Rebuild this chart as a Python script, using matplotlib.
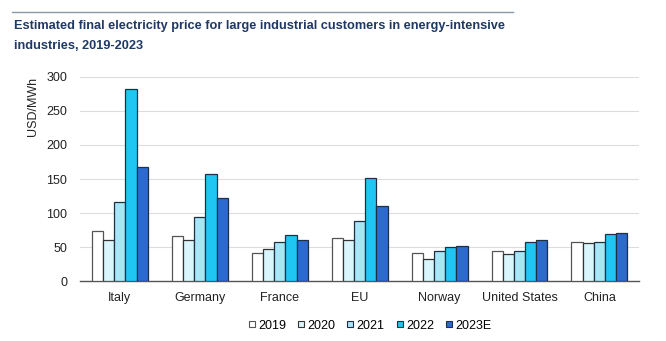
import matplotlib.pyplot as plt
import numpy as np
from matplotlib.lines import Line2D

plt.rcParams["font.family"] = ["Liberation Sans", "DejaVu Sans"]

countries = ["Italy", "Germany", "France", "EU", "Norway", "United States", "China"]
years = ["2019", "2020", "2021", "2022", "2023E"]
p2019 = [74, 67, 42, 63, 41, 44, 57]
p2020 = [60, 61, 47, 60, 33, 40, 56]
p2021 = [116, 94, 58, 88, 44, 45, 57]
p2022 = [282, 157, 68, 152, 50, 58, 70]
p2023 = [167, 122, 60, 110, 52, 60, 71]
series = [p2019, p2020, p2021, p2022, p2023]
colors = ["#ffffff", "#dbf5fc", "#a8e5f8", "#20c6f3", "#2c6acd"]
edges = ["#555555", "#333333", "#1f2f45", "#1f2f45", "#1f2f45"]

fig = plt.figure(figsize=(6.66, 3.41), dpi=100)
ax = fig.add_axes([0.12, 0.175, 0.84, 0.60])

x = np.arange(len(countries))
w = 0.14
for i, vals in enumerate(series):
    ax.bar(x + (i - 2) * w, vals, w, color=colors[i], edgecolor=edges[i],
           linewidth=0.9, zorder=3)

ax.set_xlim(-0.5, len(countries) - 0.5)
ax.set_ylim(0, 300)
ax.set_yticks(range(0, 301, 50))
ax.set_xticks(x)
ax.set_xticklabels(countries)
ax.tick_params(axis="both", labelsize=9, length=0, colors="#222222")
ax.tick_params(axis="x", pad=8)
ax.tick_params(axis="y", pad=9)
ax.grid(axis="y", color="#dddddd", linewidth=0.8, zorder=0)
for s in ["top", "right", "left"]:
    ax.spines[s].set_visible(False)
ax.spines["bottom"].set_color("#555555")
ax.spines["bottom"].set_linewidth(1.0)

fig.text(0.049, 0.775, "USD/MWh", rotation=90, ha="center", va="top",
         fontsize=9, color="#222222")

fig.text(0.021, 0.94, "Estimated final electricity price for large industrial customers in energy-intensive\nindustries, 2019-2023",
         ha="left", va="top", fontsize=9.2, fontweight="bold", color="#1f3864",
         linespacing=1.8)
fig.add_artist(Line2D([0.018, 0.77], [0.965, 0.965], color="#8a9aab",
                      linewidth=1.0))

handles = [Line2D([], [], marker="s", linestyle="none", markersize=5,
                  markerfacecolor=colors[i], markeredgecolor=edges[i],
                  markeredgewidth=0.8) for i in range(len(years))]
fig.legend(handles, years, loc="center", bbox_to_anchor=(0.555, 0.045),
           ncol=5, frameon=False, fontsize=9, handlelength=0.6,
           handletextpad=0.2, columnspacing=0.9)

fig.savefig("out.png", dpi=100)
